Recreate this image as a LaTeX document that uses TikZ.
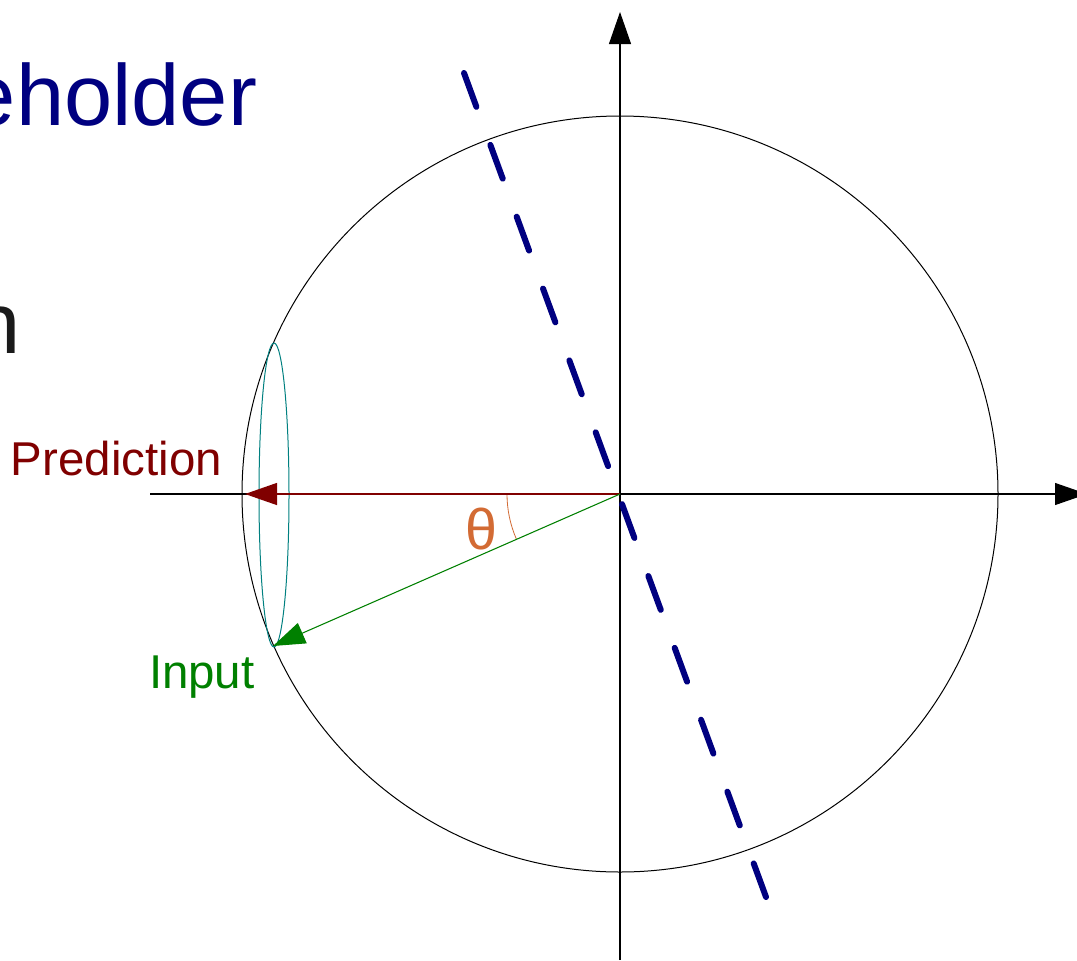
\documentclass[tikz,border=0pt]{standalone}
\usepackage{fontspec}
\setmainfont{Liberation Sans}
\usetikzlibrary{arrows.meta}
\definecolor{navy}{RGB}{0,0,128}
\definecolor{predred}{RGB}{128,0,0}
\definecolor{inpgreen}{RGB}{0,128,0}
\definecolor{ellteal}{RGB}{0,128,128}
\definecolor{thetaor}{RGB}{211,107,52}
\definecolor{nearblack}{RGB}{26,26,26}
\tikzset{
  axis/.style={draw=black, line width=0.8pt, -{Triangle[length=24pt,width=16.5pt]}},
  vec/.style={line width=0.8pt, -{Triangle[length=24pt,width=16.5pt]}},
  lbl/.style={inner sep=0pt, outer sep=0pt, font=\fontsize{35.6pt}{40pt}\selectfont},
  bigtxt/.style={inner sep=0pt, outer sep=0pt, font=\fontsize{65pt}{70pt}\selectfont},
  boundary/.style={draw=navy, line width=4.5pt, line cap=round, dash pattern=on 27pt off 30.4pt},
}
\begin{document}
\begin{tikzpicture}[x=0.75pt,y=-0.75pt]
\useasboundingbox (0,0) rectangle (1077,960);
\fill[white] (0,0) rectangle (1077,960);
% key points
\coordinate (O) at (620,494);
\coordinate (axL) at (150,494);
\coordinate (axR) at (1087,494);
\coordinate (axB) at (620,960);
\coordinate (axT) at (620,12);
\coordinate (predTip) at (245,494);
\coordinate (inTip) at (273,646);
\coordinate (dashA) at (464,73);
\coordinate (dashB) at (766,897);
\coordinate (ellC) at (274,495);
% texts
\node[bigtxt, text=navy, anchor=base east] (title) at (257,125) {eholder};
\node[bigtxt, text=nearblack, anchor=base east] (sub) at (21,353) {n};
\node[lbl, text=predred, anchor=base west] (predlbl) at (11,475) {Prediction};
\node[lbl, text=inpgreen, anchor=base west] (inlbl) at (149,688) {Input};
\node[inner sep=0pt, text=thetaor, anchor=base, font=\fontsize{43pt}{48pt}\selectfont] (theta) at (481.5,549) {θ};
% circle
\draw[black, line width=0.75pt] (O) circle[radius=283.5pt];
% axes
\draw[axis] (axL) -- (axR);
\draw[axis] (axB) -- (axT);
% ellipse
\draw[ellteal, line width=0.75pt] (ellC) ellipse[x radius=11.25pt, y radius=114pt];
% angle arc
\draw[thetaor, line width=0.6pt] ([shift={(180:84.75pt)}]O) arc[start angle=180, end angle=203.7, radius=84.75pt];
% vectors
\draw[vec, predred, line width=1pt] (O) -- (predTip);
\draw[vec, inpgreen] (O) -- (inTip);
% decision boundary
\draw[boundary] (dashA) -- (dashB);
\end{tikzpicture}
\end{document}
